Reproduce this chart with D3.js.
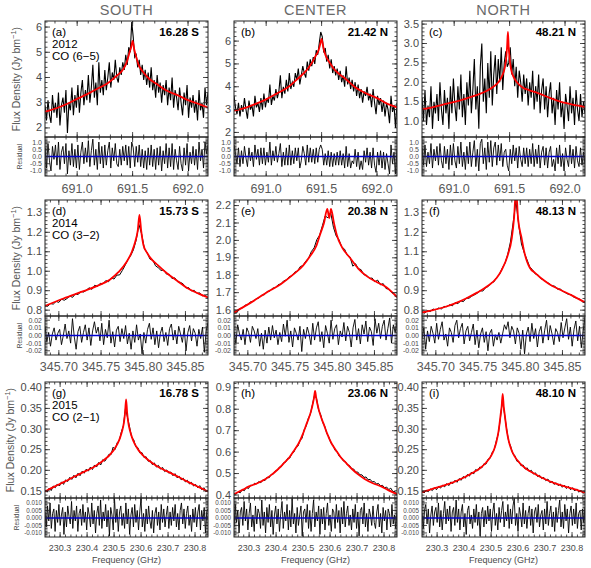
<!DOCTYPE html>
<html>
<head>
<meta charset="utf-8">
<script src="https://cdn.jsdelivr.net/npm/d3@7"></script>
<style>
body { margin: 0; background: #fff; }
svg { display: block; }
text { font-family: "Liberation Sans", Arial, sans-serif; }
</style>
</head>
<body>
<svg id="chart" width="591" height="568"></svg>
<script>
// ---------- labels ----------
const columns = ["SOUTH", "CENTER", "NORTH"];
const years = ["2012", "2014", "2015"];
const transitions = ["CO (6\u22125)", "CO (3\u22122)", "CO (2\u22121)"];
const panelIds = ["(a)", "(b)", "(c)", "(d)", "(e)", "(f)", "(g)", "(h)", "(i)"];
const latLabels = ["16.28 S", "21.42 N", "48.21 N", "15.73 S", "20.38 N", "48.13 N", "16.78 S", "23.06 N", "48.10 N"];

// ---------- axes (per row / per panel) ----------
const freqEdges = [[690.71, 692.18], [345.6836, 345.8767], [230.244, 230.848]];
const xTicks = [[691.0, 691.5, 692.0], [345.70, 345.75, 345.80, 345.85], [230.3, 230.4, 230.5, 230.6, 230.7, 230.8]];
const xMinorStep = [0.1, 0.01, 0.02];
const xTickFmt = [".1f", ".2f", ".1f"];

const yDomains = [[1.64, 6.24], [1.8, 6.88], [0.59, 3.58], [0.77, 1.366], [1.566, 2.232], [0.77, 1.366], [0.133, 0.414], [0.386, 0.927], [0.133, 0.414]];
const yTicks = [
  [2, 3, 4, 5, 6], [2, 3, 4, 5, 6], [1.0, 1.5, 2.0, 2.5, 3.0, 3.5],
  [0.8, 0.9, 1.0, 1.1, 1.2, 1.3], [1.6, 1.7, 1.8, 1.9, 2.0, 2.1, 2.2], [0.8, 0.9, 1.0, 1.1, 1.2, 1.3],
  [0.15, 0.20, 0.25, 0.30, 0.35, 0.40], [0.4, 0.5, 0.6, 0.7, 0.8, 0.9], [0.15, 0.20, 0.25, 0.30, 0.35, 0.40]
];
const yMinorStep = [0.2, 0.2, 0.1, 0.02, 0.02, 0.02, 0.01, 0.02, 0.01];
const yTickFmt = ["d", "d", ".1f", ".1f", ".1f", ".1f", ".2f", ".1f", ".2f"];

const resDomains = [[-1.35, 1.35], [-0.0255, 0.0255], [-0.0127, 0.0133]];
const resTicks = [[-1, -0.5, 0, 0.5, 1], [-0.02, -0.01, 0, 0.01, 0.02], [-0.01, -0.005, 0, 0.005, 0.01]];
const resMinorStep = [0.1, 0.002, 0.001];
const resFmt = [".1f", ".2f", ".3f"];

// ---------- observed spectra (evenly spaced channels across the row's band) ----------
const specA = [2.9,2.3,3.1,2.5,2.2,3.3,2.6,3.0,2.4,3.4, 2.1,2.9,3.2,2.6,3.5,1.8,3.0,2.7,3.6,2.5,
  3.3,2.8,3.7,2.6,3.4,3.9,2.9,3.5,3.1,4.1, 3.0,3.6,4.5,3.2,3.8,2.9,4.6,3.4,3.9,3.3,
  4.3,3.5,4.0,4.6,3.6,4.2,3.9,4.7,4.0,3.8, 4.4,4.1,4.6,4.3,4.9,4.5,5.2,5.0,6.2,
  5.6,4.8,4.9,4.4,4.7,4.1,4.5,3.9,4.3,3.7,4.2, 3.6,4.4,3.5,3.9,3.2,4.1,3.4,3.8,3.0,3.7,
  3.3,3.9,2.9,3.6,3.1,4.0,2.8,3.5,3.2,2.7, 3.6,3.0,2.5,3.4,2.9,3.7,2.4,3.2,2.8,3.3,
  2.6,3.1,2.3,3.5,2.7,3.0,2.4,3.6,2.9,3.4];
const specB = [3.6,3.1,2.8,3.3,2.7,3.2,2.9,3.5,3.0,2.6, 3.4,3.0,3.2,2.7,3.6,3.1,3.3,2.9,3.5,3.0,
  3.7,3.1,3.5,3.3,4.1,3.2,3.6,3.4,3.9,3.5, 3.8,4.5,3.5,4.0,3.7,4.3,3.8,4.6,3.9,4.2,
  4.0,4.6,4.3,4.8,4.1,4.5,4.9,4.6,4.4,5.1, 4.7,5.2,4.9,5.3,5.0,5.6,5.4,5.9,6.4,
  6.2,5.5,5.7,5.1,5.4,4.8,5.2,4.6,4.9,4.5,4.8, 4.3,4.7,4.2,4.5,4.0,4.9,4.1,4.4,3.9,4.3,
  3.8,4.2,3.6,4.1,3.5,3.9,3.3,3.8,3.6,4.0, 3.4,3.7,3.1,3.9,3.3,2.8,3.6,3.2,3.5,2.9,
  3.4,2.7,3.3,3.0,2.4,3.6,2.9,3.2,2.2,3.3];
const specC = [1.6,1.0,1.8,0.9,1.4,1.1,1.9,0.8,1.5,1.2, 1.7,1.0,2.0,1.3,0.9,1.8,1.2,1.6,0.8,1.9,
  1.2,2.1,1.4,1.0,1.9,1.3,2.2,1.1,1.7,0.9, 2.0,1.4,2.3,1.2,1.8,2.6,1.3,1.9,0.8,2.4,
  3.0,1.5,2.1,1.2,2.5,1.6,2.8,1.4,2.2,2.7, 1.7,2.6,2.0,2.9,1.8,2.5,2.8,2.4,2.5,
  2.9,2.2,2.6,1.9,2.4,1.6,2.3,2.0,1.5,2.2,1.7, 2.1,1.4,2.0,1.6,2.3,1.3,1.9,1.5,2.2,1.2,
  1.8,2.1,1.3,1.9,1.1,1.7,2.0,1.2,1.6,0.9, 1.8,1.3,2.0,1.1,1.5,0.8,1.7,1.4,1.0,1.9,
  1.2,1.6,0.9,1.8,1.3,1.0,1.7,1.1,1.5,1.2];
const specD = [0.826,0.820,0.834,0.831,0.845,0.840,0.856,0.851,0.860,0.872, 0.866,0.884,0.880,0.896,0.893,0.903,0.915,0.907,0.928,0.922,
  0.938,0.935,0.952,0.946,0.965,0.960,0.980,0.981,1.004,1.03, 1.06,1.08,1.11,1.16,1.24,1.19,1.115,1.095,1.062,1.058,
  1.028,1.018,1.004,1.006,0.985,0.984,0.962,0.966,0.946,0.943, 0.935,0.914,0.916,0.899,0.902,0.886,0.889,0.873,0.879,0.861];
const specE = [1.590,1.584,1.609,1.611,1.628,1.631,1.648,1.650,1.666,1.669, 1.686,1.688,1.707,1.709,1.726,1.729,1.746,1.750,1.768,1.773,
  1.792,1.797,1.818,1.824,1.850,1.856,1.882,1.897,1.936,1.957, 2.005,2.03,2.085,2.14,2.13,2.16,2.075,2.025,2.004,1.962,
  1.95,1.915,1.905,1.852,1.866,1.838,1.832,1.803,1.80,1.782, 1.784,1.762,1.772,1.745,1.752,1.724,1.72,1.701,1.693,1.672];
const specF = [0.792,0.785,0.798,0.793,0.806,0.801,0.811,0.806,0.819,0.818, 0.828,0.822,0.839,0.833,0.848,0.844,0.862,0.861,0.872,0.879,
  0.887,0.900,0.898,0.915,0.922,0.940,0.945,0.968,0.982,1.015, 1.04,1.085,1.15,1.25,1.36,1.24,1.14,1.095,1.06,1.022,
  1.008,0.986,0.982,0.962,0.956,0.944,0.937,0.925,0.924,0.908, 0.909,0.897,0.889,0.881,0.880,0.866,0.862,0.857,0.845,0.842];
const specG = [0.152,0.147,0.157,0.151,0.162,0.158,0.167,0.162,0.172,0.166, 0.177,0.173,0.183,0.178,0.188,0.182,0.193,0.187,0.198,0.193,
  0.203,0.198,0.208,0.202,0.213,0.208,0.219,0.213,0.226,0.222, 0.230,0.239,0.238,0.256,0.251,0.267,0.272,0.293,0.308,0.350,
  0.328,0.305,0.280,0.274,0.257,0.255,0.242,0.243,0.231,0.233, 0.222,0.224,0.214,0.218,0.208,0.212,0.203,0.207,0.197,0.201,
  0.193,0.196,0.187,0.192,0.182,0.186,0.177,0.181,0.172,0.176, 0.167,0.171,0.162,0.166,0.158,0.163,0.153,0.158,0.148,0.152];
const specH = [0.408,0.404,0.415,0.410,0.425,0.420,0.436,0.430,0.446,0.444, 0.455,0.452,0.463,0.457,0.471,0.467,0.483,0.480,0.496,0.497,
  0.512,0.515,0.530,0.532,0.550,0.553,0.571,0.572,0.592,0.600, 0.622,0.628,0.654,0.665,0.704,0.722,0.757,0.776,0.82,0.865,
  0.85,0.796,0.775,0.738,0.720,0.687,0.670,0.641,0.632,0.608, 0.602,0.581,0.576,0.559,0.556,0.540,0.538,0.522,0.521,0.507,
  0.507,0.494,0.494,0.482,0.484,0.471,0.473,0.461,0.463,0.451, 0.454,0.443,0.445,0.434,0.437,0.425,0.432,0.416,0.417,0.405];
const specI = [0.150,0.145,0.152,0.148,0.155,0.151,0.158,0.153,0.161,0.157, 0.164,0.160,0.168,0.163,0.172,0.168,0.176,0.171,0.180,0.176,
  0.185,0.181,0.190,0.186,0.196,0.191,0.202,0.199,0.208,0.206, 0.216,0.215,0.227,0.229,0.243,0.250,0.271,0.289,0.326,0.372,
  0.336,0.301,0.270,0.258,0.240,0.236,0.222,0.221,0.211,0.213, 0.203,0.206,0.197,0.200,0.191,0.194,0.185,0.188,0.180,0.183,
  0.175,0.179,0.170,0.174,0.166,0.170,0.163,0.167,0.159,0.164, 0.156,0.161,0.153,0.158,0.150,0.155,0.147,0.152,0.144,0.149];

// ---------- model fits: [frequency GHz, flux] ----------
const fitA = [[690.71,2.64],[690.825,2.8],[690.906,2.95],[691.0,3.15],[691.095,3.35],[691.203,3.6],[691.284,3.8],[691.351,4.05],[691.392,4.2],[691.419,4.35],[691.446,4.6],[691.46,4.8],[691.473,5.0],[691.487,5.2],[691.5,5.45],[691.513,5.15],[691.527,4.9],[691.54,4.7],[691.554,4.5],[691.581,4.3],[691.608,4.15],[691.649,3.95],[691.716,3.75],[691.797,3.5],[691.905,3.3],[692.0,3.1],[692.094,2.95],[692.18,2.8]];
const fitB = [[690.71,2.95],[690.825,3.1],[690.906,3.25],[691.0,3.45],[691.095,3.7],[691.203,4.0],[691.284,4.35],[691.351,4.65],[691.392,4.9],[691.419,5.1],[691.446,5.35],[691.473,5.6],[691.487,5.85],[691.5,6.1],[691.513,5.8],[691.527,5.5],[691.554,5.2],[691.581,5.0],[691.608,4.8],[691.649,4.6],[691.716,4.35],[691.797,4.0],[691.905,3.7],[692.0,3.5],[692.094,3.25],[692.18,3.1]];
const fitC = [[690.71,1.3],[690.81,1.36],[690.891,1.42],[691.013,1.5],[691.107,1.58],[691.215,1.68],[691.296,1.78],[691.35,1.88],[691.404,2.02],[691.431,2.16],[691.458,2.4],[691.472,2.7],[691.478,2.95],[691.485,3.3],[691.492,2.9],[691.499,2.65],[691.512,2.35],[691.539,2.12],[691.566,2.0],[691.62,1.86],[691.674,1.8],[691.755,1.72],[691.863,1.6],[691.958,1.5],[692.079,1.42],[692.18,1.37]];
const fitD = [[345.6836,0.822],[345.7055,0.86],[345.7292,0.898],[345.7455,0.925],[345.7608,0.958],[345.7705,0.995],[345.7806,1.05],[345.7865,1.1],[345.7904,1.15],[345.7935,1.21],[345.7955,1.29],[345.7975,1.21],[345.8002,1.135],[345.8045,1.095],[345.8082,1.07],[345.8175,1.03],[345.828,0.99],[345.8405,0.95],[345.8515,0.915],[345.8655,0.885],[345.8767,0.865]];
const fitE = [[345.6836,1.587],[345.7026,1.64],[345.7223,1.701],[345.7393,1.75],[345.7539,1.805],[345.7654,1.855],[345.7736,1.909],[345.7808,1.965],[345.7855,2.033],[345.7902,2.10],[345.7941,2.181],[345.7965,2.128],[345.7985,2.181],[345.802,2.10],[345.8053,2.033],[345.8116,1.96],[345.821,1.90],[345.8305,1.84],[345.8408,1.795],[345.853,1.76],[345.8645,1.73],[345.8767,1.675]];
const fitF = [[345.6836,0.788],[345.6966,0.80],[345.7097,0.815],[345.7227,0.835],[345.7357,0.86],[345.7488,0.89],[345.7618,0.925],[345.772,0.965],[345.7784,1.01],[345.785,1.08],[345.79,1.17],[345.7926,1.27],[345.795,1.42],[345.7974,1.27],[345.8016,1.17],[345.8047,1.1],[345.808,1.05],[345.8113,1.018],[345.8178,0.99],[345.8244,0.965],[345.8341,0.935],[345.8473,0.905],[345.8604,0.877],[345.8767,0.84]];
const fitG = [[230.244,0.149],[230.277,0.16],[230.3151,0.172],[230.3533,0.185],[230.3839,0.195],[230.4069,0.202],[230.4298,0.21],[230.4527,0.22],[230.468,0.228],[230.4833,0.237],[230.491,0.243],[230.4986,0.249],[230.5063,0.257],[230.5139,0.266],[230.5216,0.278],[230.5292,0.294],[230.5369,0.318],[230.5407,0.34],[230.5445,0.372],[230.5483,0.34],[230.5521,0.318],[230.5598,0.294],[230.5674,0.278],[230.5751,0.266],[230.5827,0.257],[230.5904,0.249],[230.598,0.243],[230.6057,0.237],[230.621,0.228],[230.6363,0.22],[230.6592,0.21],[230.6821,0.202],[230.7051,0.195],[230.7357,0.185],[230.7739,0.172],[230.8121,0.16],[230.848,0.149]];
const fitH = [[230.244,0.404],[230.277,0.425],[230.2998,0.44],[230.3304,0.455],[230.361,0.475],[230.3839,0.495],[230.4069,0.52],[230.4298,0.55],[230.4489,0.575],[230.468,0.61],[230.4833,0.64],[230.5009,0.69],[230.5139,0.735],[230.5216,0.76],[230.5292,0.79],[230.5369,0.83],[230.5407,0.855],[230.5445,0.885],[230.5483,0.855],[230.5521,0.83],[230.5598,0.79],[230.5674,0.76],[230.5751,0.735],[230.5881,0.69],[230.6057,0.64],[230.621,0.61],[230.6401,0.575],[230.6592,0.55],[230.6821,0.52],[230.7051,0.495],[230.728,0.475],[230.7586,0.455],[230.7892,0.44],[230.8121,0.425],[230.848,0.404]];
const fitI = [[230.244,0.147],[230.2907,0.157],[230.3289,0.164],[230.3671,0.173],[230.3977,0.182],[230.4283,0.193],[230.4589,0.205],[230.4818,0.219],[230.4971,0.232],[230.5048,0.241],[230.5124,0.253],[230.5201,0.27],[230.5277,0.295],[230.5308,0.31],[230.5354,0.335],[230.5392,0.355],[230.543,0.385],[230.5468,0.355],[230.5506,0.335],[230.5552,0.31],[230.5583,0.295],[230.5659,0.27],[230.5736,0.253],[230.5812,0.241],[230.5889,0.232],[230.6042,0.219],[230.6271,0.205],[230.6577,0.193],[230.6883,0.182],[230.7189,0.173],[230.7571,0.164],[230.7953,0.157],[230.848,0.146]];

// ---------- residuals (evenly spaced channels) ----------
const residA = [0.6,-0.8,0.9,-0.3,-1.0,0.7,-0.2,0.8,-0.6,1.0, -0.9,0.3,0.7,-0.5,0.9,-1.2,0.4,-0.6,0.9,-0.7,
  0.5,-0.8,0.8,-0.9,0.3,1.0,-0.5,0.6,-0.4,1.1, -0.7,0.4,1.2,-0.6,0.5,-0.9,1.0,-0.5,0.7,-0.8,
  0.8,-0.6,0.4,1.0,-0.8,0.6,-0.3,0.9,-0.5,-0.7, 0.5,-0.6,0.7,-0.3,0.8,-0.6,0.7,-0.8,1.0,
  0.6,-0.7,0.7,-0.4,0.8,-0.7,0.5,-0.8,0.4,-0.9,0.6, -0.6,0.8,-0.7,0.5,-0.9,0.6,-0.6,0.7,-1.0,0.4,
  -0.5,0.9,-0.8,0.6,-0.7,0.9,-0.9,0.5,-0.3,-0.9, 0.7,-0.5,-1.0,0.6,-0.6,0.9,-1.0,0.3,-0.5,0.7,
  -0.6,0.5,-0.9,1.0,-0.3,0.5,-0.8,1.0,0.2,0.8];
const residB = [0.8,0.2,-0.5,0.6,-0.7,0.4,-0.5,0.7,-0.1,-0.7, 0.6,-0.3,0.3,-0.7,0.8,-0.2,0.5,-0.6,0.6,-0.5,
  0.6,-0.6,0.3,-0.4,1.0,-0.6,0.4,-0.3,0.7,-0.4, 0.2,0.9,-0.7,0.3,-0.6,0.6,-0.6,0.8,-0.6,0.4,
  -0.5,0.6,-0.3,0.6,-0.8,-0.3,0.7,0.2,-0.6,0.8, -0.4,0.6,-0.4,0.5,-0.5,0.6,-0.4,0.5,0.8,
  0.5,-0.6,0.2,-0.6,0.4,-0.7,0.3,-0.7,0.2,-0.6,0.3, -0.6,0.4,-0.6,0.2,-0.8,0.7,-0.7,0.2,-0.8,-0.3,
  -0.5,0.5,-0.7,0.3,-0.9,-0.3,-0.9,0.4,-0.4,0.6, -0.6,0.3,-0.8,0.6,-0.6,-1.1,0.3,-0.6,0.4,-0.8,
  0.3,-0.9,0.2,-0.5,-1.2,0.8,-0.5,0.3,-1.2,0.5];
const residC = [0.6,-0.6,0.8,-0.7,0.3,-0.5,0.9,-0.8,0.5,-0.3, 0.7,-0.6,0.9,-0.3,-0.8,0.7,-0.5,0.5,-0.9,0.8,
  -0.6,0.9,-0.3,-0.8,0.7,-0.5,1.0,-0.7,0.3,-0.9, 0.7,-0.5,1.0,-0.7,0.3,1.1,-0.7,0.5,-1.0,0.9,
  1.2,-0.5,0.6,-0.9,1.0,-0.4,1.1,-0.7,0.6,1.0, -0.6,0.8,-0.3,0.9,-0.7,0.3,0.5,-0.6,-1.0,
  0.5,-0.5,0.8,-0.3,0.6,-0.8,0.7,-0.2,-0.7,0.6,-0.5, 0.6,-0.7,0.5,-0.5,0.9,-0.7,0.5,-0.5,0.8,-0.8,
  0.3,0.7,-0.6,0.6,-0.8,0.3,0.7,-0.7,-0.2,-1.0, 0.6,-0.5,0.8,-0.7,0.2,-1.0,0.6,-0.2,-0.7,0.8,
  -0.5,0.5,-0.8,0.7,-0.3,-0.7,0.6,-0.6,0.3,-0.5];
const residD = [0.012,-0.008,0.004,-0.014,0.002,0.010,-0.006,0.003,0.008,-0.012, 0.000,0.015,-0.004,0.006,-0.010,0.022,-0.002,-0.018,0.005,0.012,
  -0.009,0.004,0.014,-0.006,0.010,-0.013,0.006,0.018,0.003,0.011, -0.007,0.016,-0.012,0.008,-0.003,0.020,-0.010,0.005,-0.015,0.007,
  0.012,-0.008,0.009,-0.004,0.013,-0.011,0.003,-0.018,0.006,-0.009, 0.014,-0.006,0.002,-0.024,0.004,-0.010,0.008,0.016,-0.005,0.010,
  -0.012,0.006,-0.016,0.003,0.011,-0.008,0.004,-0.013,0.009,0.015, -0.006,0.007,-0.011,0.012,0.002,-0.009,0.010,-0.020,0.004,0.013,
  -0.007,0.009,0.003,-0.014,0.008,-0.004,0.011,-0.022,0.006,0.017];
const residE = [0.005,-0.010,0.014,0.002,-0.006,0.008,-0.012,0.010,0.004,-0.009, 0.012,0.006,-0.004,0.009,-0.014,0.003,-0.018,0.007,-0.010,0.011,
  -0.006,0.013,-0.003,0.007,-0.012,0.004,-0.008,0.015,-0.001,0.020, -0.009,0.006,-0.015,0.010,0.003,-0.006,0.012,-0.021,0.008,-0.004,
  0.011,0.002,-0.012,0.016,-0.006,0.010,0.018,-0.008,0.005,-0.016, 0.013,0.003,-0.010,0.020,-0.005,0.009,0.014,-0.012,0.006,-0.002,
  0.017,-0.007,0.012,0.004,-0.015,0.010,0.021,-0.006,0.009,-0.011, 0.014,0.002,0.019,-0.008,0.011,0.005,-0.013,0.022,0.003,0.016,
  -0.004,0.012,0.020,-0.006,0.009,0.023,-0.010,0.014,0.004,0.018];
const residF = [-0.004,0.010,-0.018,0.006,-0.008,0.012,0.003,-0.010,0.016,-0.005, 0.008,0.018,-0.006,0.002,-0.014,0.010,0.004,-0.009,0.013,0.020,
  -0.003,0.009,0.016,-0.011,0.006,0.012,-0.007,0.004,0.015,-0.012, 0.007,-0.016,0.002,0.010,-0.009,0.005,-0.020,0.003,0.008,-0.014,
  0.001,-0.006,0.004,-0.010,0.002,0.014,0.008,0.018,-0.003,0.012, 0.006,-0.011,0.010,0.003,-0.018,0.007,-0.024,0.002,0.011,-0.008,
  0.016,-0.004,0.009,-0.015,0.005,0.012,-0.010,0.007,0.020,-0.006, 0.013,0.002,-0.012,0.009,0.004,-0.008,0.017,-0.003,0.010,0.022,
  -0.005,0.011,-0.014,0.008,0.019,-0.007,0.012,-0.016,0.006,0.024];
const residG = [.004,-.006,.008,-.002,.010,-.007,.003,.006,-.009,.005, -.003,.009,-.005,.002,.007,-.011,.004,-.006,.008,.001,
  -.004,.011,-.007,.005,-.002,.008,-.009,.003,.006,-.005, .009,-.003,.004,-.008,.007,.002,-.006,.010,-.004,.005,
  -.010,.003,.008,-.005,.012,-.007,.004,-.002,.009,-.006, .005,-.012,.007,.002,-.008,.013,-.003,.006,-.009,.004,
  .008,-.005,.003,-.007,.010,-.004,.006,-.011,.002,.007, -.006,.009,-.003,.005,-.008,.004,.013,-.006,.003,-.009,
  .006,-.004,.008,-.002,-.007,.005,-.010,.003,.007,-.005, .004,-.008,.009,-.003,.006,-.006,.002,.008,-.007,.004,
  -.005,.007,-.002,.009,-.006,.003,-.008,.005,.010,-.004, .006,-.007,.003,.008,-.005,.002,-.009,.006,-.003,.007,
  -.006,.004,.009,-.008,.005,-.002,.007,-.010,.004,.006];
const residH = [-.006,.009,-.003,.005,-.010,.004,.007,-.005,.011,-.002, .006,-.008,.003,.010,-.006,.002,-.009,.008,-.004,.006,
  .003,-.007,.012,-.005,.004,-.010,.007,-.003,.009,-.006, .005,-.011,.002,.008,-.004,.006,-.009,.003,.011,-.007,
  .004,-.002,.009,-.008,.005,-.006,.013,-.004,.003,-.010, .007,-.005,.002,.008,-.012,.004,.006,-.003,.009,-.007,
  .005,-.009,.003,.012,-.006,.004,-.002,.008,-.011,.006, -.004,.007,-.008,.003,.010,-.005,.002,-.009,.006,.004,
  -.007,.009,-.003,.005,-.010,.007,-.004,.011,-.006,.003, .008,-.005,.002,-.008,.006,-.003,.009,-.007,.004,-.012,
  .005,.007,-.004,.010,-.006,.003,-.009,.006,.002,-.005, .008,-.003,-.007,.004,.009,-.006,.003,-.010,.007,-.002,
  .005,-.008,.006,.003,-.006,.009,-.004,.002,-.007,.005];
const residI = [.003,-.007,.005,.009,-.004,.006,-.010,.002,.008,-.005, .004,.007,-.003,.010,-.006,.005,-.008,.003,.011,-.004,
  .006,-.002,.008,-.009,.004,.007,-.005,.012,-.003,.006, -.008,.004,.009,-.006,.003,-.011,.005,.008,-.004,.002,
  -.007,.006,-.003,.009,-.005,.004,-.012,.003,.007,-.006, .005,-.004,.008,-.002,.006,-.009,.004,.010,-.005,.003,
  -.008,.007,-.003,.005,.011,-.006,.004,-.002,.009,-.007, .006,-.004,.008,.013,-.005,.003,-.009,.007,.002,-.006,
  .010,-.004,.005,-.007,.003,.008,-.005,.006,-.010,.004, .007,-.003,.009,-.006,.002,.005,-.008,.006,-.004,.011,
  -.005,.003,.008,-.006,.004,-.009,.007,-.003,.005,.012, -.006,.004,-.007,.009,-.002,.006,-.010,.003,.008,-.005,
  .006,-.004,.010,-.007,.003,.005,-.008,.006,-.003,.007];

const specs = [specA, specB, specC, specD, specE, specF, specG, specH, specI];
const fits = [fitA, fitB, fitC, fitD, fitE, fitF, fitG, fitH, fitI];
const resids = [residA, residB, residC, residD, residE, residF, residG, residH, residI];

// ---------- layout ----------
const colX = [45, 234, 422];
const rowY = [21, 200, 382];
const panelW = 163, mainH = 116, resH = 39;
const frameCol = "#222";
const labelCol = "#4a4a4a";
const fluxLabelX = [20, 20, 13.5];
const resLabelX = [21.5, 21.5, 18.5];
const xLabelBase = [193, 371, 551];

const svg = d3.select("#chart");
const defs = svg.append("defs");
const fmtMinus = f => v => d3.format(f)(v).replace("\u2212", "-");

function seg(g, x1, y1, x2, y2) {
  g.append("line").attr("x1", x1).attr("y1", y1).attr("x2", x2).attr("y2", y2);
}

function minorVals(domain, step) {
  const lo = Math.min(domain[0], domain[1]), hi = Math.max(domain[0], domain[1]);
  return d3.range(Math.ceil(lo / step - 1e-6) * step, hi, step);
}

// box with inward ticks on all four sides
function drawFrame(g, x, xMaj, xStep, y, yMaj, yStep, h) {
  const t = g.append("g").attr("stroke", frameCol).attr("stroke-width", 0.8);
  minorVals(x.domain(), xStep).forEach(v => { seg(t, x(v), h, x(v), h - 2.5); seg(t, x(v), 0, x(v), 2.5); });
  xMaj.forEach(v => { seg(t, x(v), h, x(v), h - 5); seg(t, x(v), 0, x(v), 5); });
  minorVals(y.domain(), yStep).forEach(v => { seg(t, 0, y(v), 2.5, y(v)); seg(t, panelW, y(v), panelW - 2.5, y(v)); });
  yMaj.forEach(v => { seg(t, 0, y(v), 5, y(v)); seg(t, panelW, y(v), panelW - 5, y(v)); });
  g.append("rect").attr("width", panelW).attr("height", h)
    .attr("fill", "none").attr("stroke", frameCol).attr("stroke-width", 1);
}

// column titles
columns.forEach((name, c) => {
  svg.append("text").attr("x", colX[c] + panelW / 2).attr("y", 15)
    .attr("text-anchor", "middle").attr("font-size", 14.5).attr("fill", "#6a6a6a")
    .attr("letter-spacing", 0.6).text(name);
});

for (let r = 0; r < 3; r++) {
  const x = d3.scaleLinear().domain(freqEdges[r]).range([0, panelW]);
  const yr = d3.scaleLinear().domain(resDomains[r]).range([resH, 0]);

  for (let c = 0; c < 3; c++) {
    const k = r * 3 + c;
    const left = colX[c], top = rowY[r];
    const y = d3.scaleLinear().domain(yDomains[k]).range([mainH, 0]);

    defs.append("clipPath").attr("id", "cm" + k)
      .append("rect").attr("width", panelW).attr("height", mainH);
    defs.append("clipPath").attr("id", "cr" + k)
      .append("rect").attr("width", panelW).attr("height", resH);

    // ---- main panel ----
    const gm = svg.append("g").attr("transform", `translate(${left},${top})`);
    const plot = gm.append("g").attr("clip-path", `url(#cm${k})`);
    const spec = specs[k];
    const chan = d3.scaleLinear().domain([0, spec.length - 1]).range(freqEdges[r]);
    plot.append("path").datum(spec)
      .attr("fill", "none").attr("stroke", "#000").attr("stroke-width", r === 0 ? 1.1 : 1)
      .attr("d", d3.line().x((d, i) => x(chan(i))).y(d => y(d)));
    plot.append("path").datum(fits[k])
      .attr("fill", "none").attr("stroke", "#ff0000").attr("stroke-width", 1.8)
      .attr("d", d3.line().curve(d3.curveMonotoneX).x(d => x(d[0])).y(d => y(d[1])));

    drawFrame(gm, x, xTicks[r], xMinorStep[r], y, yTicks[k], yMinorStep[k], mainH);

    gm.selectAll(".ytl").data(yTicks[k]).join("text")
      .attr("x", -3).attr("y", d => y(d)).attr("dy", "0.32em")
      .attr("text-anchor", "end").attr("font-size", 11).attr("fill", labelCol)
      .text(fmtMinus(yTickFmt[k]));

    // annotations
    gm.append("text").attr("x", 7).attr("y", 15).attr("font-size", 11.5).attr("fill", "#000").text(panelIds[k]);
    gm.append("text").attr("x", panelW - 9).attr("y", 15).attr("text-anchor", "end")
      .attr("font-size", 11.5).attr("font-weight", "bold").attr("fill", "#000").text(latLabels[k]);
    if (c === 0) {
      gm.append("text").attr("x", 7).attr("y", 27).attr("font-size", 11.5).attr("fill", "#000").text(years[r]);
      gm.append("text").attr("x", 7).attr("y", 39).attr("font-size", 11.5).attr("fill", "#000").text(transitions[r]);
      svg.append("text")
        .attr("transform", `translate(${fluxLabelX[r]},${top + mainH / 2}) rotate(-90)`)
        .attr("text-anchor", "middle").attr("font-size", 10.5).attr("fill", "#555")
        .html("Flux Density (Jy bm<tspan dy='-4' font-size='7.5'>\u22121</tspan><tspan dy='4'>)</tspan>");
      svg.append("text")
        .attr("transform", `translate(${resLabelX[r]},${top + mainH + resH / 2}) rotate(-90)`)
        .attr("text-anchor", "middle").attr("font-size", 6.5).attr("fill", "#444")
        .text("Residual");
    }

    // ---- residual panel ----
    const gr = svg.append("g").attr("transform", `translate(${left},${top + mainH})`);
    const rp = gr.append("g").attr("clip-path", `url(#cr${k})`);
    const res = resids[k];
    const rchan = d3.scaleLinear().domain([0, res.length - 1]).range(freqEdges[r]);
    rp.append("path").datum(res)
      .attr("fill", "none").attr("stroke", "#000").attr("stroke-width", 0.9)
      .attr("d", d3.line().x((d, i) => x(rchan(i))).y(d => yr(d)));
    rp.append("line").attr("x1", 0).attr("x2", panelW).attr("y1", yr(0)).attr("y2", yr(0))
      .attr("stroke", "#0000d0").attr("stroke-width", 1.5);

    drawFrame(gr, x, xTicks[r], xMinorStep[r], yr, resTicks[r], resMinorStep[r], resH);

    gr.selectAll(".rtl").data(resTicks[r]).join("text")
      .attr("x", -3).attr("y", d => yr(d)).attr("dy", "0.36em")
      .attr("text-anchor", "end").attr("font-size", r === 2 ? 6.3 : 7).attr("fill", labelCol)
      .text(fmtMinus(resFmt[r]));

    // x tick labels below each residual box
    const big = r < 2;
    gr.selectAll(".xtl").data(xTicks[r]).join("text")
      .attr("x", d => x(d)).attr("y", xLabelBase[r] - top - mainH)
      .attr("text-anchor", "middle").attr("font-size", big ? 12.5 : 9).attr("fill", big ? "#5a5a5a" : labelCol)
      .text(fmtMinus(xTickFmt[r]));
    if (r === 2) {
      gr.append("text").attr("x", panelW / 2).attr("y", 562.5 - top - mainH)
        .attr("text-anchor", "middle").attr("font-size", 9).attr("fill", labelCol)
        .text("Frequency (GHz)");
    }
  }
}
</script>
</body>
</html>
